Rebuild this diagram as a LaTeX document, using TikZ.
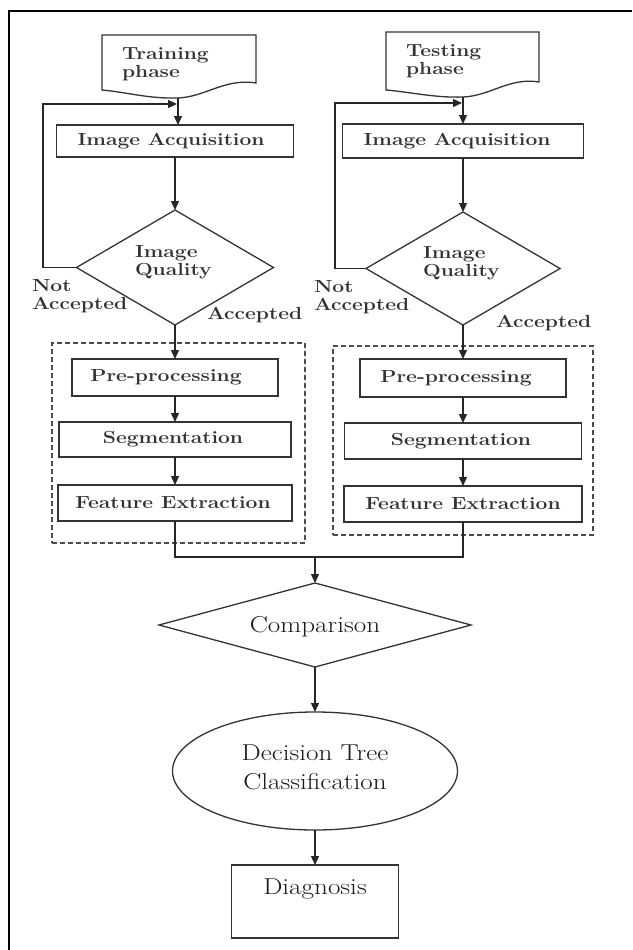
\documentclass[tikz,border=0pt]{standalone}
\usepackage{graphicx}
\usetikzlibrary{arrows.meta,shapes.geometric}

% horizontally widened labels
\newcommand{\wideb}[1]{\scalebox{1.2}[1]{\bfseries #1}}
\newcommand{\widen}[1]{\scalebox{1.18}[1]{#1}}

\begin{document}
\begin{tikzpicture}[x=1pt,y=-1pt,
  every node/.style={inner sep=0pt, outer sep=0pt},
  procbox/.style={draw=black!80, line width=1.3pt, rectangle},
  decision/.style={draw=black!80, line width=1.3pt, diamond},
  docshape/.style={draw=black!80, line width=1.3pt},
  grpframe/.style={draw=black!70, line width=1.2pt, dash pattern=on 5pt off 3pt, rectangle},
  smalltxt/.style={font=\fontsize{17.5}{18}\selectfont, text=black!80},
  bigtxt/.style={font=\fontsize{23}{29}\selectfont, text=black!90},
  flow/.style={-{Triangle[length=9pt,width=8pt]}, line width=1.3pt, draw=black!85},
  joinline/.style={line width=1.3pt, draw=black!85}
]
\useasboundingbox (0,0) rectangle (632,950);

% page frame (top and left edges)
\draw[line width=2pt] (9,950) -- (9,11) -- (632,11);

% ---------- phase documents ----------
\draw[docshape] (102,90) -- (102,35) -- (256,35) -- (256,83)
  .. controls (225,78) and (205,97) .. (178,98)
  .. controls (150,99) and (125,92) .. (102,90) -- cycle;
\coordinate (trb) at (178,98);
\node[smalltxt, align=left, anchor=west] (trtxt) at (122,64) {\wideb{Training}\\\wideb{phase}};

\draw[docshape] (386,90) -- (386,32) -- (539,32) -- (539,82)
  .. controls (510,77) and (490,96) .. (463,97)
  .. controls (435,98) and (410,92) .. (386,90) -- cycle;
\coordinate (teb) at (463,97);
\node[smalltxt, align=left, anchor=west] (tetxt) at (406,61) {\wideb{Testing}\\\wideb{phase}};

% ---------- training column ----------
\node[procbox, minimum width=237pt, minimum height=32pt] (lacq) at (175,141) {};
\node[decision, minimum width=197pt, minimum height=115pt] (lq) at (175,267.5) {};
\node[smalltxt, align=left, anchor=west] (lqt) at (135,262) {\wideb{Image}\\\wideb{Quality}};
\node[grpframe, minimum width=253pt, minimum height=200pt] (lgrp) at (178.5,443) {};
\node[procbox, minimum width=206pt, minimum height=37pt] (lpre) at (175,377.5) {};
\node[procbox, minimum width=232pt, minimum height=35pt] (lseg) at (175,439.5) {};
\node[procbox, minimum width=234pt, minimum height=36pt] (lfeat) at (175,503) {};

% ---------- testing column ----------
\node[procbox, minimum width=241pt, minimum height=34pt] (racq) at (463,141) {};
\node[decision, minimum width=194pt, minimum height=113pt] (rq) at (463,268.5) {};
\node[smalltxt, align=left, anchor=west] (rqt) at (423,263) {\wideb{Image}\\\wideb{Quality}};
\node[grpframe, minimum width=260pt, minimum height=189pt] (rgrp) at (463,440.5) {};
\node[procbox, minimum width=206pt, minimum height=38pt] (rpre) at (463,378) {};
\node[procbox, minimum width=237pt, minimum height=36pt] (rseg) at (463,441) {};
\node[procbox, minimum width=238pt, minimum height=36pt] (rfeat) at (463,504) {};

% box labels (slightly left of the box centre, as set)
\foreach \n/\dx/\t in {lacq/-4/Image Acquisition, racq/-6/Image Acquisition,
                   lpre/-9/Pre-processing, rpre/-7/Pre-processing,
                   lseg/-2/Segmentation, rseg/-2/Segmentation,
                   lfeat/-2/Feature Extraction, rfeat/0/Feature Extraction}
  \node[smalltxt] (\n-t) at ([xshift=\dx pt]\n.center) {\wideb{\t}};

% decision outcome labels
\node[smalltxt, align=left, anchor=west] (lna) at (32,296) {\wideb{Not}\\\wideb{Accepted}};
\node[smalltxt, anchor=west] (lac) at (207,315) {\wideb{Accepted}};
\node[smalltxt, align=left, anchor=west] (rna) at (314,297) {\wideb{Not}\\\wideb{Accepted}};
\node[smalltxt, anchor=west] (rac) at (496,323) {\wideb{Accepted}};

% ---------- common stages ----------
\node[decision, minimum width=312pt, minimum height=84pt] (cmp) at (315,625) {};
\node[bigtxt] (cmpt) at (315,627) {\widen{Comparison}};
\node[draw=black!80, line width=1.3pt, ellipse, minimum width=285pt, minimum height=118pt] (dtc) at (315,771) {};
\node[bigtxt, align=center] (dtct) at (315,767) {\widen{Decision Tree}\\\widen{Classification}};
\node[procbox, minimum width=167pt, minimum height=73pt] (diag) at (315,901.5) {};
\node[bigtxt] (diagt) at (315,889) {\widen{Diagnosis}};
\coordinate (join) at (315,557);

% ---------- connectors ----------
\draw[flow] (trb) -- (trb |- lacq.north);
\draw[flow] (lacq) -- (lq.north);
\draw[flow] (lq.west) -| (43,104) -- (177,104);
\draw[flow] (lq) -- (lpre.north);
\draw[flow] (lpre) -- (lseg);
\draw[flow] (lseg) -- (lfeat);

\draw[flow] (teb) -- (teb |- racq.north);
\draw[flow] (racq) -- (rq.north);
\draw[flow] (rq.west) -| (335,103) -- (462,103);
\draw[flow] (rq) -- (rpre.north);
\draw[flow] (rpre) -- (rseg);
\draw[flow] (rseg) -- (rfeat);

\draw[joinline] (lfeat.south) |- (join);
\draw[joinline] (rfeat.south) |- (join);
\draw[flow] (join) -- (cmp.north);
\draw[flow] (cmp) -- (dtc);
\draw[flow] (dtc) -- (diag);
\end{tikzpicture}
\end{document}
